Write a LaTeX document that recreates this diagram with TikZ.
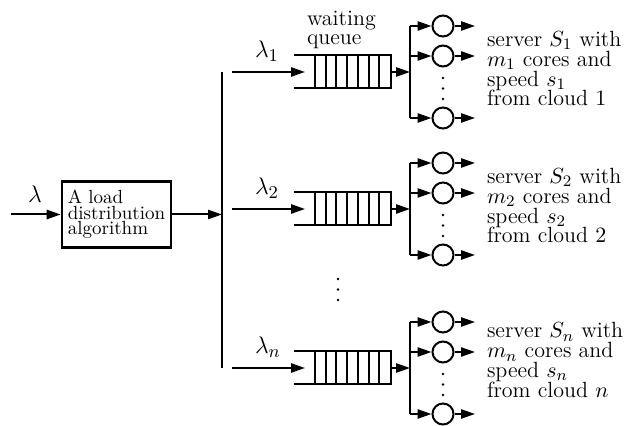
\documentclass[tikz,border=0pt]{standalone}
\usetikzlibrary{arrows.meta}
\begin{document}
\begin{tikzpicture}[x=0.5pt,y=-0.5pt,line width=1pt,
  arr/.style={-{Triangle[length=7pt,width=4.6pt]}},
  algbox/.style={draw,line width=1.3pt,minimum width=54.5pt,minimum height=33pt,inner sep=0pt,align=left,
    font={\fontsize{9.5}{7.8}\selectfont\lineskiplimit=-10pt\relax}},
  lab/.style={inner sep=0pt,font=\fontsize{13}{15}\selectfont},
  txt/.style={inner sep=0pt,anchor=north west,align=left,
    font={\fontsize{11}{9.9}\selectfont\lineskiplimit=-10pt\relax}},
  srv/.style={draw,circle,minimum size=10.5pt,inner sep=0pt},
  queuebox/.style={minimum width=47.5pt,minimum height=15.5pt,inner sep=0pt}]
\useasboundingbox (0,0) rectangle (643,426);

% load distribution
\coordinate (in) at (11,214.5);
\node[algbox] (alg) at (116.5,214.5) {A load\\distribution\\algorithm};
\node[lab,anchor=base] (lam) at (35,203) {$\lambda$};
\draw[arr] (in) -- (alg.west);
\coordinate (vt) at (222,72);
\coordinate (vb) at (222,368);
\draw (vt) -- (vb);
\draw[arr] (alg.east) -- (alg.east -| vt);

\node[txt,font={\fontsize{11}{9.3}\selectfont\lineskiplimit=-10pt\relax}] (wq) at (306,10.5) {waiting\\queue};

\foreach \c/\k/\t in {72/1/30.2, 209/2/167.2, 368/n/321.7} {
  \node[queuebox] (q\k) at (342.5,\c) {};
  \draw (q\k.north west) -- (q\k.north east) -- (q\k.south east) -- (q\k.south west);
  \foreach \i in {0,...,6} \draw (315+\i*10.71,\c-15.5) -- (315+\i*10.71,\c+15.5);
  \coordinate (s\k) at (232,\c);
  \coordinate (e\k) at (305,\c);
  \draw[arr] (s\k) -- (e\k);
  \node[lab,anchor=base west] (l\k) at (254,\c-14) {$\lambda_\k$};
  \coordinate (b\k) at (410,\c);
  \draw[arr] (q\k.east) -- (b\k);
  \node[srv] (a\k) at (443,\c-46) {};
  \node[srv] (m\k) at (443,\c-16) {};
  \node[srv] (z\k) at (443,\c+46) {};
  \draw (a\k -| b\k) -- (z\k -| b\k);
  \foreach \s in {a,m,z} {
    \draw[arr] (\s\k -| b\k) -- (\s\k.west);
    \path (\s\k.east) ++(20.5,0) coordinate (o\s\k);
    \draw[arr] (\s\k.east) -- (o\s\k);
  }
  \fill (443,\c+6) circle (0.7pt);
  \fill (443,\c+16.5) circle (0.7pt);
  \fill (443,\c+27) circle (0.7pt);
  \node[txt] (t\k) at (486,\t) {server $S_\k$ with\\$m_\k$ cores and\\speed $s_\k$\\from cloud $\k$};
}

\fill (338,279) circle (0.7pt);
\fill (338,289.5) circle (0.7pt);
\fill (338,300) circle (0.7pt);
\end{tikzpicture}
\end{document}
